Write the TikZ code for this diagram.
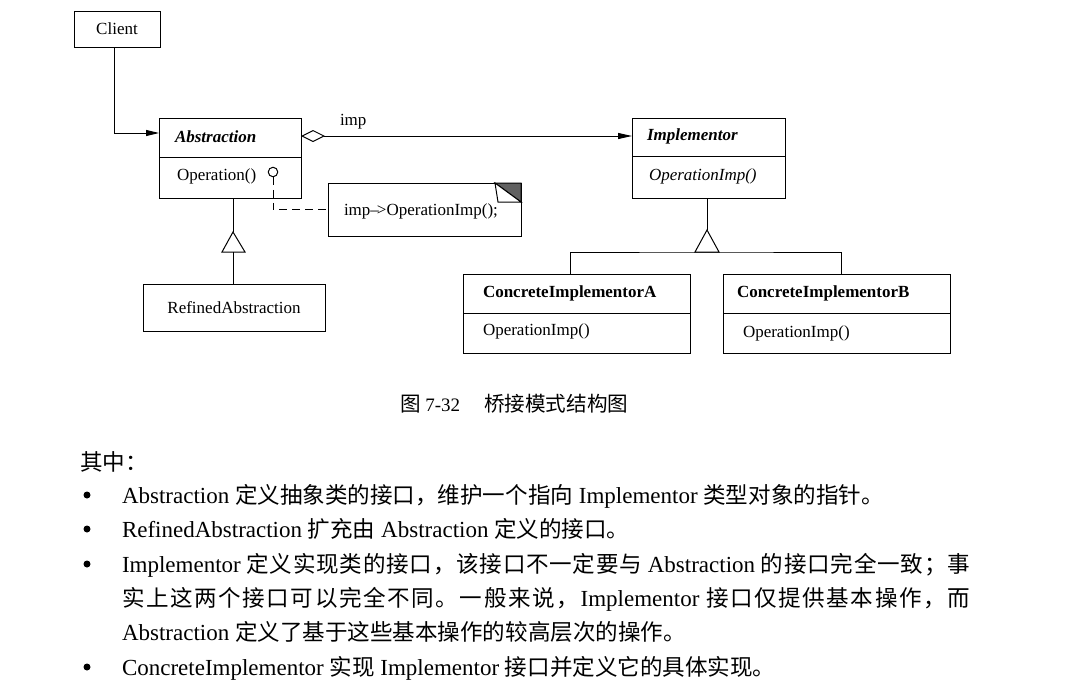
\documentclass[tikz,border=0pt]{standalone}
\usepackage{fontspec}
\setmainfont{Liberation Serif}
\newfontfamily\cjk[Scale=0.98]{Noto Sans CJK SC}
\usetikzlibrary{arrows.meta}
\makeatletter
\def\spr#1{#1\spr@x}
\def\spr@x#1{\ifx#1\relax\else\hskip0pt plus 1fil#1\expandafter\spr@x\fi}
\makeatother
\newcommand\gl{\hskip 5pt plus 1fil}
\begin{document}
\begin{tikzpicture}[x=1pt,y=-1pt,
  every node/.style={inner sep=0pt, outer sep=0pt},
  lw/.style={line width=1pt},
  umlbox/.style={draw, line width=1pt, fill=white, font=\fontsize{17}{20}\selectfont},
  lbl/.style={font=\fontsize{17}{20}\selectfont, anchor=west},
  lblbi/.style={font=\fontsize{17}{20}\selectfont\bfseries\itshape, anchor=west},
  lblb/.style={font=\fontsize{17}{20}\selectfont\bfseries, anchor=west},
  lbli/.style={font=\fontsize{17}{20}\selectfont\itshape, anchor=west},
  body/.style={font=\fontsize{23}{28}\selectfont, anchor=base west},
  blt/.style={circle, fill=black, minimum size=7pt},
  ]
\fill[white] (0,0) rectangle (1065,686);
\useasboundingbox (0,0) rectangle (1065,686);

% Client
\node[umlbox, minimum width=86pt, minimum height=36pt] (client) at (117,29) {Client};

% Abstraction
\node[umlbox, minimum width=142pt, minimum height=80pt] (abs) at (230,158) {};
\draw[lw] (abs.west |- 0,157) -- (abs.east |- 0,157);
\node[lblbi] (absT) at (175,137) {Abstraction};
\node[lbl] (absO) at (177,176) {Operation()};
\node[circle, draw, lw, minimum size=9.5pt, fill=white] (lol) at (273,172) {};

% Note
\node[umlbox, minimum width=193pt, minimum height=53pt] (note) at (424.5,209.5) {};
\filldraw[lw, fill=gray!75!black] (495,183) -- (521,183) -- (521,202) -- cycle;
\draw[lw, fill=white] (495,183) -- (498,202) -- (521,202) -- cycle;
\node[lbl] (noteT) at (344,211) {imp--\kern-2pt>OperationImp();};

% Implementor
\node[umlbox, minimum width=153pt, minimum height=80pt] (impl) at (708.5,158) {};
\draw[lw] (impl.west |- 0,156) -- (impl.east |- 0,156);
\node[lblbi] (implT) at (647,136) {Implementor};
\node[lbli] (implO) at (649,176) {OperationImp()};

% Concrete A
\node[umlbox, minimum width=227pt, minimum height=79pt] (ca) at (576.5,313.5) {};
\draw[lw] (ca.west |- 0,313) -- (ca.east |- 0,313);
\node[lblb] (caT) at (483,293) {ConcreteImplementorA};
\node[lbl] (caO) at (483,331) {OperationImp()};

% Concrete B
\node[umlbox, minimum width=227pt, minimum height=79pt] (cb) at (836.5,313.5) {};
\draw[lw] (cb.west |- 0,313) -- (cb.east |- 0,313);
\node[lblb] (cbT) at (737,293) {ConcreteImplementorB};
\node[lbl] (cbO) at (743,333) {OperationImp()};

% Refined
\node[umlbox, minimum width=182pt, minimum height=47pt] (ref) at (234,307.5) {RefinedAbstraction};

% Connectors
\draw[lw, -{Triangle[length=13pt,width=6pt]}] (client.south -| 114,0) |- (abs.west |- 0,133);
\draw[lw, {Diamond[open,length=24pt,width=12pt]}-{Triangle[length=14pt,width=6pt]}] (abs.east |- 0,136) -- (impl.west |- 0,136);
\node[lbl] (impL) at (340,122) {imp};
\draw[lw, dash pattern=on 8pt off 5pt] (lol.south) |- (note.west);

% Inheritance Abstraction
\coordinate (ta) at (233,232);
\draw[lw] (abs.south -| 233,0) -- (ta);
\draw[lw] (222,252) -- (ta) -- (245,252) -- cycle;
\draw[lw] (233,252) -- (ref.north -| 233,0);

% Inheritance Implementor
\coordinate (tb) at (707,230);
\draw[lw] (impl.south -| 707,0) -- (tb);
\draw[lw] (695,252) -- (tb) -- (719,252) -- cycle;
\draw[lw] (ca.north -| 570,0) |- (707,252) -| (cb.north -| 841,0);

% Caption
\node[font=\fontsize{19}{22}\selectfont, anchor=west] (cap) at (400,404)
  {{\fontsize{21}{22}\selectfont\cjk 图} 7-32\hspace{24pt}{\fontsize{21}{22}\selectfont\cjk 桥接模式结构图}};

% Body text
\node[body] (t0) at (80,470) {{\cjk 其中：}};
\node[blt] (b1) at (87,495) {};
\node[body] (t1) at (122,503) {Abstraction {\cjk 定义抽象类的接口，维护一个指向} Implementor {\cjk 类型对象的指针。}};
\node[blt] (b2) at (87,529) {};
\node[body] (t2) at (122,537) {RefinedAbstraction {\cjk 扩充由} Abstraction {\cjk 定义的接口。}};
\node[blt] (b3) at (87,564) {};
\node[body] (t3) at (122,572) {\makebox[848pt][s]{Implementor\gl{\cjk\spr 定义实现类的接口，该接口不一定要与\relax}\gl Abstraction\gl{\cjk\spr 的接口完全一致；事\relax}}};
\node[body] (t4) at (122,606) {\makebox[848pt][s]{{\cjk\spr 实上这两个接口可以完全不同。一般来说，\relax}\hskip0pt plus 1fil Implementor\gl{\cjk\spr 接口仅提供基本操作，而\relax}}};
\node[body] (t5) at (122,640) {Abstraction {\cjk 定义了基于这些基本操作的较高层次的操作。}};
\node[blt] (b4) at (87,667) {};
\node[body] (t6) at (122,675) {ConcreteImplementor {\cjk 实现} Implementor {\cjk 接口并定义它的具体实现。}};
\end{tikzpicture}
\end{document}
